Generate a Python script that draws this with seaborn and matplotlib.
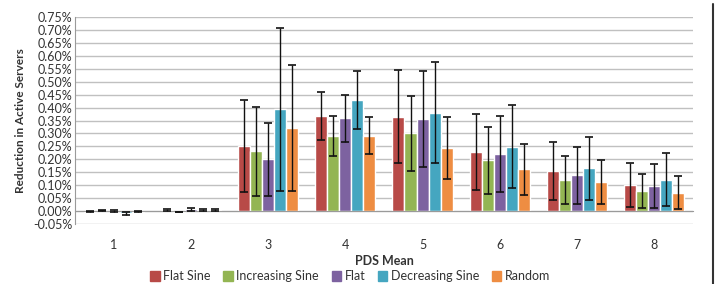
import numpy as np
import pandas as pd
import matplotlib
matplotlib.use("Agg")
import matplotlib.pyplot as plt
from matplotlib.lines import Line2D
from matplotlib.ticker import MultipleLocator, FuncFormatter
import seaborn as sns

# values in percent
pds_mean = ["1", "2", "3", "4", "5", "6", "7", "8"]
series = ["Flat Sine", "Increasing Sine", "Flat", "Decreasing Sine", "Random"]

flat_sine = [-0.002, 0.006, 0.252, 0.367, 0.365, 0.229, 0.155, 0.100]
increasing_sine = [0.002, -0.003, 0.232, 0.291, 0.300, 0.196, 0.120, 0.078]
flat = [0.002, 0.008, 0.200, 0.359, 0.357, 0.222, 0.139, 0.098]
decreasing_sine = [-0.008, 0.005, 0.393, 0.429, 0.381, 0.249, 0.166, 0.122]
random_ = [-0.002, 0.004, 0.321, 0.291, 0.244, 0.161, 0.113, 0.071]

flat_sine_err = [0.001, 0.004, 0.177, 0.094, 0.180, 0.147, 0.111, 0.085]
increasing_sine_err = [0.001, 0.001, 0.172, 0.078, 0.145, 0.129, 0.094, 0.066]
flat_err = [0.004, 0.006, 0.140, 0.091, 0.185, 0.147, 0.110, 0.084]
decreasing_sine_err = [0.006, 0.004, 0.316, 0.112, 0.194, 0.161, 0.122, 0.104]
random_err = [0.001, 0.003, 0.242, 0.071, 0.119, 0.100, 0.084, 0.064]

cols = ["#B84A47", "#93B553", "#7D62A0", "#45A6C0", "#EE8D42"]

vals = [flat_sine, increasing_sine, flat, decreasing_sine, random_]
errs = [flat_sine_err, increasing_sine_err, flat_err, decreasing_sine_err, random_err]

rows = []
for name, v, e in zip(series, vals, errs):
    for cat, y, err in zip(pds_mean, v, e):
        rows.append({"pds": cat, "series": name, "val": y, "err": err})
data = pd.DataFrame(rows)

sns.set_style("white")
plt.rcParams["font.family"] = ["Lato", "DejaVu Sans"]

fig = plt.figure(figsize=(7.15, 2.84), dpi=100)
ax = fig.add_axes([0.105, 0.211, 0.864, 0.729])

sns.barplot(data=data, x="pds", y="val", hue="series", order=pds_mean,
            hue_order=series, palette=cols, width=0.78, gap=0,
            errorbar=None, saturation=1, ax=ax, legend=False, zorder=2)

# error bars at the bar centres
for i, name in enumerate(series):
    cont = ax.containers[i]
    xs = [p.get_x() + p.get_width() / 2 for p in cont.patches]
    sub = data[data["series"] == name]
    ax.errorbar(xs, sub["val"].values, yerr=sub["err"].values, fmt="none",
                ecolor="#111111", elinewidth=1.0, capsize=3, capthick=1.2, zorder=3)

ax.set_ylim(-0.05, 0.75)
ax.set_xlim(-0.5, 7.5)
ax.yaxis.set_major_locator(MultipleLocator(0.05))
ax.yaxis.set_major_formatter(FuncFormatter(lambda v, p: f"{v:.2f}%"))
ax.grid(axis="y", color="#c0c0c0", linewidth=1.0, zorder=0)
ax.set_axisbelow(True)

for s in ["top", "right"]:
    ax.spines[s].set_visible(False)
ax.spines["left"].set_color("#9a9a9a")
ax.spines["bottom"].set_color("#9a9a9a")
ax.spines["bottom"].set_position(("data", 0))

ax.set_xticks(np.arange(-0.5, 8.0, 1.0), minor=True)
ax.tick_params(axis="x", which="minor", direction="inout", length=6, color="#9a9a9a", width=1)
ax.tick_params(axis="x", which="major", length=0, pad=20, labelsize=9, labelcolor="#333333")
ax.tick_params(axis="y", length=0, pad=2, labelsize=9, labelcolor="#333333")

ax.set_xlabel("PDS Mean", fontsize=9, fontweight="bold", color="#333333", labelpad=3)
ax.set_ylabel("Reduction in Active Servers", fontsize=8.5, fontweight="bold",
              color="#333333", labelpad=5)

handles = [plt.Rectangle((0, 0), 1, 1, color=c) for c in cols]
fig.legend(handles, series, loc="center", bbox_to_anchor=(0.49, 0.027), ncol=5,
           frameon=False, fontsize=9, handlelength=0.75, handleheight=0.75,
           handletextpad=0.3, columnspacing=1.0, labelcolor="#333333")

# chart border on the right edge
fig.add_artist(Line2D([0.997, 0.997], [0.0, 0.985], transform=fig.transFigure,
                      color="#333333", linewidth=1.5))

fig.savefig("out.png", dpi=100)
